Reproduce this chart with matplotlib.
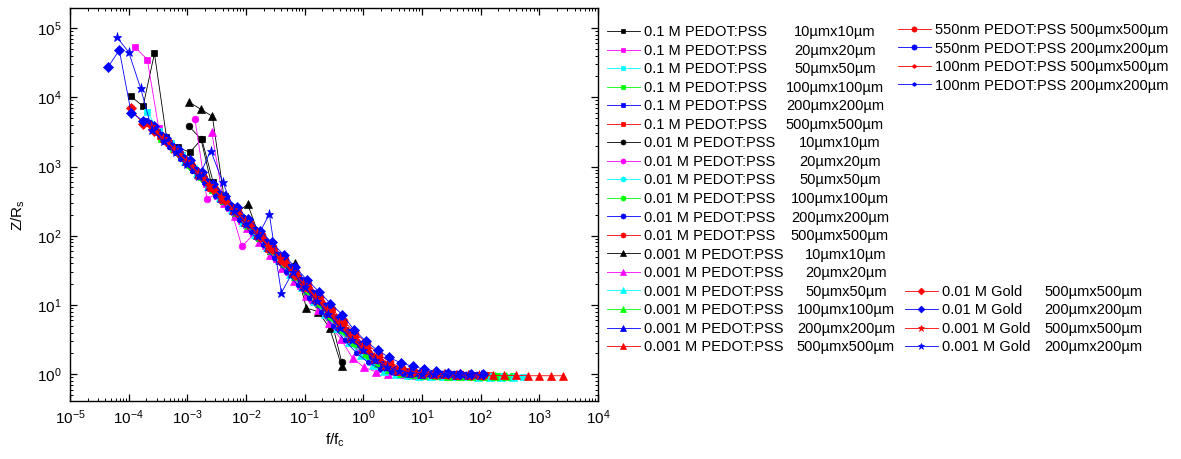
import matplotlib
matplotlib.use("Agg")
import matplotlib.pyplot as plt
from matplotlib.ticker import LogLocator, NullFormatter
import numpy as np

plt.rcParams['font.family'] = ['Liberation Sans', 'DejaVu Sans']
plt.rcParams['mathtext.default'] = 'regular'

# normalised frequency grid (f/fc), 5 points per decade
GRID = [4.0e-5, 6.3e-5, 1.0e-4, 1.6e-4, 2.5e-4, 4.0e-4, 6.3e-4, 1.0e-3, 1.6e-3, 2.5e-3,
        4.0e-3, 6.3e-3, 1.0e-2, 1.6e-2, 2.5e-2, 4.0e-2, 6.3e-2, 0.1, 0.16, 0.25,
        0.4, 0.63, 1.0, 1.6, 2.5, 4.0, 6.3, 10, 16, 25,
        40, 63, 100, 160, 250, 400, 630, 1000, 1600, 2500]

names = (["0.1 M PEDOT:PSS"] * 6 + ["0.01 M PEDOT:PSS"] * 6 + ["0.001 M PEDOT:PSS"] * 6
         + ["550nm PEDOT:PSS", "550nm PEDOT:PSS", "100nm PEDOT:PSS", "100nm PEDOT:PSS",
            "0.01 M Gold", "0.01 M Gold", "0.001 M Gold", "0.001 M Gold"])
sizes = (["10µmx10µm", "20µmx20µm", "50µmx50µm", "100µmx100µm", "200µmx200µm", "500µmx500µm"] * 3
         + ["500µmx500µm", "200µmx200µm"] * 4)

# Z/Rs readings, one list per sample
z_01_10 = [1.03e4, 7.4e3, 4.3e4, 2.7e3, 1.9e3, 1.6e3, 2.5e3, 600, 380, 250, 150, 85, 58, 40, 24,
           15.5, 10.2, 6.8, 4.4, 3.0, 2.1, 1.55, 1.25, 1.12, 1.06, 1.03, 1.01, 1.0, 0.99, 0.98, 0.97]
z_01_20 = [5.3e4, 3.5e4, 3.6e3, 2.1e3, 1.45e3, 900, 560, 380, 250, 165, 108, 70, 46, 30, 19, 12.5,
           8.2, 5.2, 3.4, 2.3, 1.6, 1.28, 1.12, 1.05, 1.02, 1.0, 0.99, 0.98, 0.97, 0.97]
z_01_50 = [6.1e3, 3.3e3, 2.2e3, 1.45e3, 950, 620, 410, 275, 185, 122, 80, 52, 34, 22, 14.2, 9.0,
           5.6, 3.4, 2.2, 1.5, 1.2, 1.06, 1.01, 0.98, 0.97, 0.96, 0.95, 0.94, 0.94, 0.93, 0.93, 0.92, 0.92]
z_01_100 = [2.5e3, 1.8e3, 1.2e3, 800, 520, 350, 240, 160, 104, 68, 45, 29, 18, 12, 7.7, 4.9, 3.2,
            2.1, 1.5, 1.2, 1.06, 1.0, 0.97, 0.96, 0.95, 0.95, 0.94, 0.94, 0.93, 0.93, 0.93]
z_01_200 = [4.6e3, 3.2e3, 2.2e3, 1.5e3, 1.0e3, 660, 440, 300, 200, 135, 88, 58, 38, 25, 16, 10.5,
            6.8, 4.4, 2.9, 2.0, 1.5, 1.22, 1.09, 1.04, 1.02, 1.0, 0.99, 0.98, 0.98, 0.97]
z_01_500 = [4.2e3, 2.8e3, 2.0e3, 1.35e3, 880, 590, 400, 270, 180, 118, 78, 51, 33, 21, 13.8, 9.0,
            5.9, 3.9, 2.6, 1.85, 1.42, 1.2, 1.1, 1.05, 1.02, 1.0, 0.99, 0.98, 0.97, 0.97]
z_001_10 = [3.8e3, 2.5e3, 480, 330, 225, 150, 100, 64, 42, 27, 17.5, 11.5, 7.6, 1.5]
z_001_20 = [4.8e3, 340, 420, 260, 70, 105, 68, 45, 29, 18, 11.5, 7.4, 4.8, 3.1, 2.1, 1.5, 1.2,
            1.07, 1.02, 1.0, 0.98, 0.97, 0.97]
z_001_50 = [1.8e3, 1.2e3, 790, 520, 350, 240, 160, 104, 68, 44, 29, 18, 11.8, 7.6, 4.8, 3.1, 2.0,
            1.45, 1.15, 1.03, 0.99, 0.97, 0.96, 0.95, 0.95, 0.94, 0.94, 0.93, 0.93]
z_001_100 = [1.5e3, 1.0e3, 660, 440, 300, 200, 135, 88, 58, 38, 24, 15.5, 10, 6.5, 4.1, 2.7, 1.85,
             1.38, 1.12, 1.02, 0.98, 0.96, 0.95, 0.95, 0.94, 0.94, 0.93, 0.93]
z_001_200 = [2.3e3, 1.6e3, 1.1e3, 720, 480, 330, 225, 150, 98, 64, 42, 27, 17, 11, 7.2, 4.6, 3.0,
             2.1, 1.55, 1.25, 1.1, 1.04, 1.01, 1.0, 0.99, 0.98, 0.98]
z_001_500 = [2.0e3, 1.4e3, 950, 640, 430, 290, 195, 130, 86, 56, 37, 24, 15.5, 10.2, 6.6, 4.3, 2.9,
             2.0, 1.5, 1.22, 1.1, 1.04, 1.02, 1.0, 0.99, 0.98, 0.98, 0.97]
z_0001_10 = [8.5e3, 6.7e3, 5.3e3, 330, 210, 285, 95, 62, 36, 40, 9.0, 8.0, 4.6, 1.3]
z_0001_20 = [3.2e3, 300, 190, 130, 82, 52, 34, 22, 13.5, 8.6, 5.4, 3.2, 1.7, 1.25, 1.08, 1.02,
             0.99, 0.98, 0.97, 0.97, 0.96, 0.96, 0.96]
z_0001_50 = [1.2e3, 800, 530, 360, 240, 160, 105, 68, 44, 28, 18, 11.5, 7.3, 4.6, 2.9, 1.9, 1.35,
             1.1, 1.01, 0.97, 0.95, 0.94, 0.94, 0.93, 0.93, 0.92, 0.92, 0.92, 0.92]
z_0001_100 = [1.1e3, 720, 480, 330, 220, 145, 95, 62, 40, 26, 16.5, 10.8, 7.0, 4.5, 2.9, 2.0, 1.45,
              1.17, 1.05, 1.0, 0.97, 0.96, 0.95, 0.95, 0.94, 0.94, 0.94, 0.93]
z_0001_200 = [1.2e3, 790, 520, 350, 235, 158, 104, 68, 44, 29, 18.5, 12, 7.8, 5.0, 3.3, 2.3, 1.65,
              1.3, 1.12, 1.05, 1.02, 1.0, 0.99, 0.98, 0.98]
z_0001_500 = [760, 510, 345, 232, 156, 102, 67, 44, 28.5, 18, 11.8, 7.7, 5.0, 3.3, 2.3, 1.65, 1.3,
              1.13, 1.06, 1.03, 1.01, 0.99, 0.98, 0.97, 0.97, 0.96, 0.96, 0.96, 0.95, 0.95, 0.95, 0.95]
z_550_500 = [3.3e3, 2.3e3, 1.6e3, 1.1e3, 740, 500, 340, 230, 155, 104, 69, 46, 30, 20, 13.2, 8.8,
             5.9, 4.0, 2.75, 1.95, 1.48, 1.22, 1.1, 1.04, 1.02, 1.0, 0.99, 0.98, 0.98]
z_550_200 = [4.3e3, 2.9e3, 2.0e3, 1.35e3, 900, 600, 400, 270, 180, 120, 80, 53, 35, 23, 15, 9.8,
             6.3, 4.1, 2.7, 1.85, 1.42, 1.2, 1.09, 1.04, 1.02, 1.0, 0.99, 0.98, 0.98]
z_100_500 = [2.4e3, 1.65e3, 1.1e3, 730, 490, 330, 225, 150, 98, 64, 42, 27, 17.5, 11.5, 7.4, 4.8,
             3.2, 2.2, 1.6, 1.28, 1.12, 1.05, 1.02, 1.0, 0.99, 0.98, 0.97, 0.97]
z_100_200 = [1.9e3, 1.3e3, 870, 570, 380, 255, 170, 112, 73, 47, 30, 19.5, 12.5, 8.0, 5.0, 3.1,
             2.05, 1.48, 1.2, 1.07, 1.02, 1.0, 0.99, 0.98, 0.98, 0.97, 0.97]
z_au01_500 = [6.9e3, 4.1e3, 3.3e3, 2.3e3, 1.6e3, 1.08e3, 720, 480, 325, 218, 146, 97, 64, 42, 27.5,
              18, 11.8, 7.8, 5.1, 3.4, 2.4, 1.75, 1.38, 1.18, 1.08, 1.04, 1.02, 1.0, 0.99, 0.98, 0.97]
z_au01_200 = [2.7e4, 4.8e4, 6.0e3, 4.6e3, 3.8e3, 2.6e3, 1.8e3, 1.25e3, 820, 560, 380, 260, 175, 118,
              80, 53, 35, 23, 15.5, 10.5, 7.2, 4.4, 3.0, 2.2, 1.75, 1.45, 1.3, 1.18, 1.1, 1.05,
              1.02, 1.0, 0.99]
z_au001_500 = [3.8e3, 2.6e3, 1.8e3, 1.2e3, 800, 540, 360, 245, 165, 110, 72, 47, 31, 20, 13, 8.5,
               5.5, 3.6, 2.45, 1.75, 1.35, 1.15, 1.06, 1.02, 1.0, 0.99, 0.98, 0.97, 0.97]
z_au001_200 = [7.4e4, 4.5e4, 1.35e4, 3.4e3, 2.3e3, 1.6e3, 1.1e3, 720, 1.7e3, 600, 230, 150, 100,
               205, 15, 30, 18, 11.5, 7.4, 4.7, 3.1, 2.2, 1.6, 1.28, 1.12, 1.05, 1.02, 1.0, 0.99,
               0.98, 0.98, 0.97]

zdata = [z_01_10, z_01_20, z_01_50, z_01_100, z_01_200, z_01_500,
         z_001_10, z_001_20, z_001_50, z_001_100, z_001_200, z_001_500,
         z_0001_10, z_0001_20, z_0001_50, z_0001_100, z_0001_200, z_0001_500,
         z_550_500, z_550_200, z_100_500, z_100_200,
         z_au01_500, z_au01_200, z_au001_500, z_au001_200]
# first grid index of each sample and its fc scaling of the grid
start_idx = [2, 2, 3, 5, 3, 4, 7, 7, 6, 6, 5, 5, 7, 9, 7, 7, 7, 8, 4, 4, 5, 5, 2, 0, 4, 1]
fc_scale = [1.1, 1.3, 1.3, 0.9, 1.2, 0.85, 1.07, 1.35, 0.95, 1.15, 1.0, 1.25,
            1.07, 1.04, 0.9, 1.1, 0.95, 1.0, 1.15, 0.88, 1.05, 1.2, 1.1, 1.1, 0.95, 1.0]

xticks = [1e-5, 1e-4, 1e-3, 1e-2, 1e-1, 1e0, 1e1, 1e2, 1e3, 1e4]
yticks = [1e0, 1e1, 1e2, 1e3, 1e4, 1e5]

colors = ['#000000', '#FF00FF', '#00FFFF', '#00FF00', '#0000FF', '#FF0000'] * 3 + \
         ['#FF0000', '#0000FF'] * 4
markers = ['s'] * 6 + ['o'] * 6 + ['^'] * 6 + ['o', 'o', 'h', 'h', 'D', 'D', '*', '*']
msizes = [4.6] * 6 + [4.8] * 6 + [5.2] * 6 + [5.0, 5.0, 3.6, 3.6, 4.6, 4.6, 6.6, 6.6]

fig = plt.figure(figsize=(11.81, 4.59), dpi=100)
ax = fig.add_axes([70 / 1181, 1 - 401 / 459, 528 / 1181, 393 / 459])

handles = []
for k in range(len(zdata)):
    z = zdata[k]
    x = np.array(GRID[start_idx[k]:start_idx[k] + len(z)]) * fc_scale[k]
    h, = ax.plot(x, z, color=colors[k], lw=0.6, marker=markers[k], ms=msizes[k],
                 mfc=colors[k], mec=colors[k], mew=0.5)
    handles.append(h)

ax.set_xscale('log')
ax.set_yscale('log')
ax.set_xticks(xticks)
ax.set_yticks(yticks)
ax.set_xlim(1e-5, 1e4)
ax.set_ylim(0.41, 1.95e5)
ax.xaxis.set_minor_locator(LogLocator(base=10, subs=np.arange(2, 10), numticks=100))
ax.yaxis.set_minor_locator(LogLocator(base=10, subs=np.arange(2, 10), numticks=100))
ax.xaxis.set_minor_formatter(NullFormatter())
ax.yaxis.set_minor_formatter(NullFormatter())
ax.tick_params(which='both', direction='in', top=True, right=True, labelsize=11)
ax.tick_params(which='major', length=5, width=0.9)
ax.tick_params(which='minor', length=2.5, width=0.7)
ax.tick_params(axis='x', pad=5)
ax.tick_params(axis='y', pad=6)
for sp in ax.spines.values():
    sp.set_linewidth(1.0)

ax.set_xlabel('f/f$_c$', fontsize=11)
ax.set_ylabel('Z/R$_s$', fontsize=11)
ax.xaxis.set_label_coords(0.502, -0.078)
ax.yaxis.set_label_coords(-0.082, 0.473)

# legends
leg_kw = dict(loc='upper left', frameon=False, fontsize=10.5, handlelength=2.25,
              handletextpad=0.3, labelspacing=0.31, borderpad=0, borderaxespad=0,
              markerscale=0.75)
leg1 = fig.legend(handles[:18], names[:18], bbox_to_anchor=(607 / 1181, 1 - 25.3 / 459), **leg_kw)
leg2 = fig.legend(handles[18:22], [n + ' ' + s for n, s in zip(names[18:22], sizes[18:22])],
                  bbox_to_anchor=(898 / 1181, 1 - 23 / 459), **leg_kw)
leg3 = fig.legend(handles[22:], names[22:], bbox_to_anchor=(905 / 1181, 1 - 284.7 / 459), **leg_kw)

fig.canvas.draw()
inv = fig.transFigure.inverted()
centers = [835] * 6 + [840] * 6 + [846] * 6
for t, s, xc in zip(leg1.get_texts(), sizes[:18], centers):
    bb = t.get_window_extent()
    _, yb = inv.transform((0, bb.y0))
    fig.text(xc / 1181, yb, s, ha='center', va='bottom', fontsize=10.5)
for t, s in zip(leg3.get_texts(), sizes[22:]):
    bb = t.get_window_extent()
    _, yb = inv.transform((0, bb.y0))
    fig.text(1044 / 1181, yb, s, ha='left', va='bottom', fontsize=10.5)

fig.savefig('out.png', dpi=100)
